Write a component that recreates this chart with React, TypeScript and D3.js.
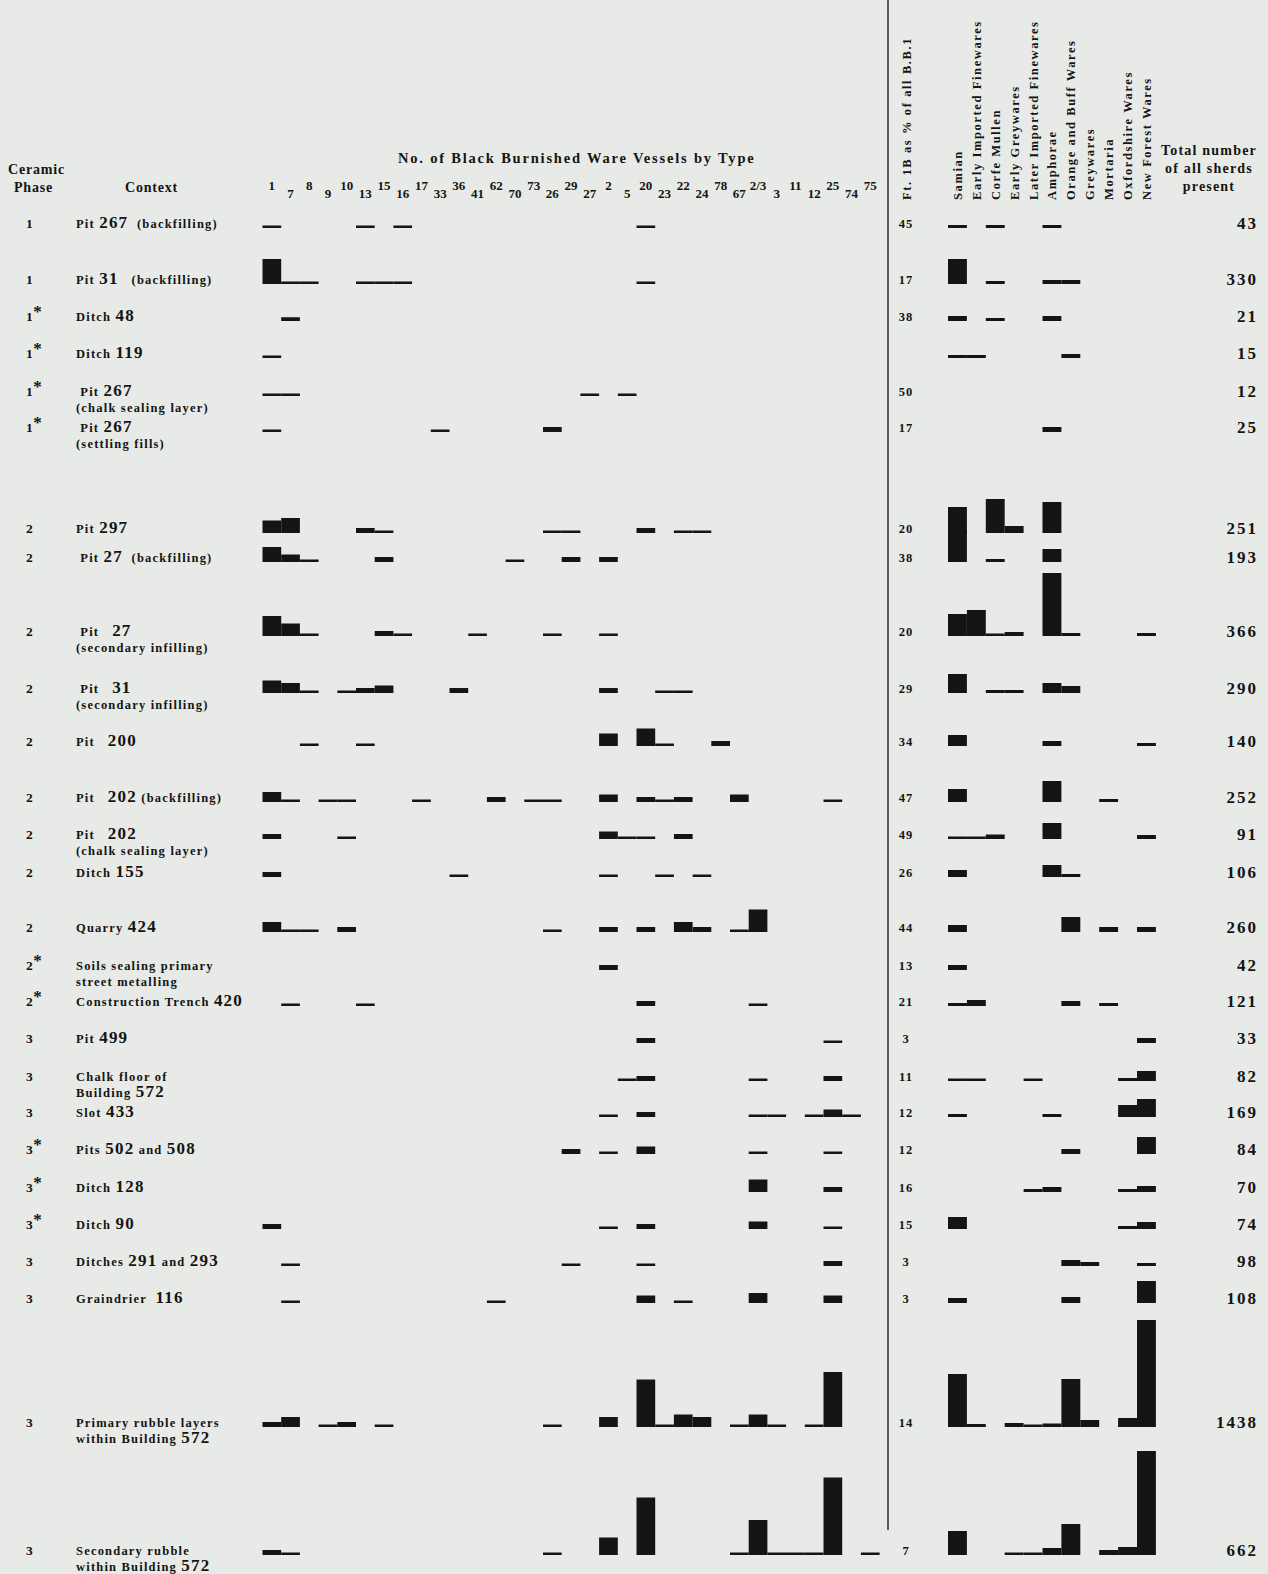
import React from "react";
import * as d3 from "d3";

const WIDTH = 1268;
const HEIGHT = 1574;

// Black Burnished ware vessel types, in column order
const bbTypes = [
  "1", "7", "8", "9", "10", "13", "15", "16", "17", "33", "36", "41", "62", "70", "73", "26", "29",
  "27", "2", "5", "20", "23", "22", "24", "78", "67", "2/3", "3", "11", "12", "25", "74", "75",
];

// Other fabric groups
const fabricGroups = [
  "Samian",
  "Early Imported Finewares",
  "Corfe Mullen",
  "Early Greywares",
  "Later Imported Finewares",
  "Amphorae",
  "Orange and Buff Wares",
  "Greywares",
  "Mortaria",
  "Oxfordshire Wares",
  "New Forest Wares",
];

const phases = [
  "1", "1", "1*", "1*", "1*", "1*",
  "2", "2", "2", "2", "2", "2", "2", "2", "2", "2*", "2*",
  "3", "3", "3", "3*", "3*", "3*", "3", "3", "3", "3",
];

const contextLines: string[][] = [
  ["Pit 267  (backfilling)"],
  ["Pit 31   (backfilling)"],
  ["Ditch 48"],
  ["Ditch 119"],
  [" Pit 267", "(chalk sealing layer)"],
  [" Pit 267", "(settling fills)"],
  ["Pit 297"],
  [" Pit 27  (backfilling)"],
  [" Pit   27", "(secondary infilling)"],
  [" Pit   31", "(secondary infilling)"],
  ["Pit   200"],
  ["Pit   202 (backfilling)"],
  ["Pit   202", "(chalk sealing layer)"],
  ["Ditch 155"],
  ["Quarry 424"],
  ["Soils sealing primary", "street metalling"],
  ["Construction Trench 420"],
  ["Pit 499"],
  ["Chalk floor of", "Building 572"],
  ["Slot 433"],
  ["Pits 502 and 508"],
  ["Ditch 128"],
  ["Ditch 90"],
  ["Ditches 291 and 293"],
  ["Graindrier  116"],
  ["Primary rubble layers", "within Building 572"],
  ["Secondary rubble", "within Building 572"],
];

// Ft. 1B as % of all B.B.1 (blank where not given)
const ft1bShare: (number | null)[] = [
  45, 17, 38, null, 50, 17, 20, 38, 20, 29, 34, 47, 49, 26, 44, 13, 21, 3, 11, 12, 12, 16, 15, 3, 3, 14, 7,
];

const totalSherds = [
  43, 330, 21, 15, 12, 25, 251, 193, 366, 290, 140, 252, 91, 106, 260, 42, 121, 33, 82, 169, 84, 70, 74,
  98, 108, 1438, 662,
];

// Black Burnished vessels per type, one record per context
const bbCounts: Record<string, number>[] = [
  { "1": 1, "13": 1, "16": 1, "20": 1 },
  { "1": 10, "7": 1, "8": 1, "13": 1, "15": 1, "16": 1, "20": 1 },
  { "7": 1.5 },
  { "1": 1 },
  { "1": 1, "7": 1, "27": 1, "5": 1 },
  { "1": 1, "33": 1, "26": 2 },
  { "1": 5, "7": 6, "13": 2, "15": 1, "26": 1, "29": 1, "20": 2, "22": 1, "24": 1 },
  { "1": 6, "7": 3, "8": 1, "15": 2, "70": 1, "29": 2, "2": 2 },
  { "1": 8, "7": 5, "8": 1, "15": 2, "16": 1, "41": 1, "26": 1, "2": 1 },
  { "1": 5, "7": 4, "8": 1, "10": 1, "13": 2, "15": 3, "36": 2, "2": 2, "23": 1, "22": 1 },
  { "8": 1, "13": 1, "2": 5, "20": 7, "23": 1, "78": 2 },
  { "1": 4, "7": 1, "9": 1, "10": 1, "17": 1, "62": 2, "73": 1, "26": 1, "2": 3, "20": 2, "23": 1, "22": 2, "67": 3, "25": 1 },
  { "1": 2, "10": 1, "2": 3, "5": 1, "20": 1, "22": 2 },
  { "1": 2, "36": 1, "2": 1, "23": 1, "24": 1 },
  { "1": 4, "7": 1, "8": 1, "10": 2, "26": 1, "2": 2, "20": 2, "22": 4, "24": 2, "67": 1, "2/3": 9 },
  { "2": 2 },
  { "7": 1, "13": 1, "20": 2, "2/3": 1 },
  { "20": 2, "25": 1 },
  { "5": 1, "20": 2, "2/3": 1, "25": 2 },
  { "2": 1, "20": 2, "2/3": 1, "3": 1, "12": 1, "25": 3, "74": 1 },
  { "29": 2, "2": 1, "20": 3, "2/3": 1, "25": 1 },
  { "2/3": 5, "25": 2 },
  { "1": 2, "2": 1, "20": 2, "2/3": 3, "25": 1 },
  { "7": 1, "29": 1, "20": 1, "25": 2 },
  { "7": 1, "62": 1, "20": 3, "22": 1, "2/3": 4, "25": 3 },
  { "1": 2, "7": 4, "9": 1, "10": 2, "15": 1, "26": 1, "2": 4, "20": 19, "23": 1, "22": 5, "24": 4, "67": 1, "2/3": 5, "3": 1, "12": 1, "25": 22 },
  { "1": 2, "7": 1, "26": 1, "2": 7, "20": 23, "67": 1, "2/3": 14, "3": 1, "11": 1, "12": 1, "25": 31, "75": 1 },
];

// Share of each fabric group per context, in fabricGroups order
const fabricShares: number[][] = [
  [1.2, 0, 1.2, 0, 0, 1.2, 0, 0, 0, 0, 0],
  [10, 0, 1.2, 0, 0, 1.6, 1.6, 0, 0, 0, 0],
  [2, 0, 1.2, 0, 0, 2, 0, 0, 0, 0, 0],
  [1.2, 1.2, 0, 0, 0, 0, 1.6, 0, 0, 0, 0],
  [0, 0, 0, 0, 0, 0, 0, 0, 0, 0, 0],
  [0, 0, 0, 0, 0, 2, 0, 0, 0, 0, 0],
  [10.4, 0, 13.6, 2.8, 0, 12.4, 0, 0, 0, 0, 0],
  [12.8, 0, 1.2, 0, 0, 5.2, 0, 0, 0, 0, 0],
  [8.8, 10.4, 1, 1.6, 0, 25.2, 1.2, 0, 0, 0, 1.2],
  [7.6, 0, 1.2, 1.2, 0, 4, 2.8, 0, 0, 0, 0],
  [4.4, 0, 0, 0, 0, 2, 0, 0, 0, 0, 1.2],
  [5.2, 0, 0, 0, 0, 8.4, 0, 0, 1.2, 0, 0],
  [1, 1, 1.8, 0, 0, 6.4, 0, 0, 0, 0, 1.6],
  [2.8, 0, 0, 0, 0, 4.8, 1.2, 0, 0, 0, 0],
  [2.8, 0, 0, 0, 0, 0, 6, 0, 2, 0, 2],
  [2, 0, 0, 0, 0, 0, 0, 0, 0, 0, 0],
  [1.2, 2.4, 0, 0, 0, 0, 2, 0, 1.2, 0, 0],
  [0, 0, 0, 0, 0, 0, 0, 0, 0, 0, 2],
  [1, 1, 0, 0, 1, 0, 0, 0, 0, 1.2, 4],
  [1.2, 0, 0, 0, 0, 1.2, 0, 0, 0, 4.8, 7.2],
  [0, 0, 0, 0, 0, 0, 2, 0, 0, 0, 6.8],
  [0, 0, 0, 0, 1.2, 2, 0, 0, 0, 1.2, 2.4],
  [4.8, 0, 0, 0, 0, 0, 0, 0, 0, 1.2, 2.8],
  [0, 0, 0, 0, 0, 0, 2.4, 1.6, 0, 0, 1.2],
  [2, 0, 0, 0, 0, 0, 2.4, 0, 0, 0, 8.8],
  [21.2, 1.2, 0, 1.6, 1, 1.4, 19.2, 2.8, 0, 3.6, 42.8],
  [9.6, 0, 0, 1, 1, 2.8, 12.4, 0, 2, 3.2, 41.6],
];

// ---- layout ----
const rowBase = [
  228, 284, 321, 358, 396, 432, 533, 562, 636, 693, 746, 802, 839, 877, 932, 970, 1006, 1043, 1081,
  1117, 1154, 1192, 1229, 1266, 1303, 1427, 1555,
];
const LINE_GAP = 15.5;
const INK = "#141414";
const PAPER = "#e7eae6";
const FONT = "'Liberation Serif', 'DejaVu Serif', serif";

function ContextText({ line, x, y }: { line: string; x: number; y: number }) {
  const parts = line.split(/(\d+)/).filter((p) => p.length > 0);
  return (
    <text x={x} y={y} fontFamily={FONT} fontWeight="bold" fill={INK} style={{ whiteSpace: "pre" }}>
      {parts.map((p, i) =>
        /^\d+$/.test(p) ? (
          <tspan key={i} fontSize={17} letterSpacing={1.2}>
            {p}
          </tspan>
        ) : (
          <tspan key={i} fontSize={12.5} letterSpacing={1.2}>
            {p}
          </tspan>
        )
      )}
    </text>
  );
}

export default function App() {
  const xLeft = d3
    .scaleBand<string>()
    .domain(bbTypes)
    .range([262.5, 262.5 + bbTypes.length * 18.7]);
  const xRight = d3
    .scaleBand<string>()
    .domain(fabricGroups)
    .range([948, 948 + fabricGroups.length * 18.9]);
  const hLeft = d3.scaleLinear().domain([0, 1]).range([0, 2.5]);
  const hRight = d3.scaleLinear().domain([0, 1]).range([0, 2.5]);

  return (
    <div style={{ position: "absolute", left: 0, top: 0 }}>
      <svg width={WIDTH} height={HEIGHT} viewBox={`0 0 ${WIDTH} ${HEIGHT}`} style={{ display: "block" }}>
        <rect x={0} y={0} width={WIDTH} height={HEIGHT} fill={PAPER} />

        {/* column headings */}
        <g fontFamily={FONT} fontWeight="bold" fill={INK} fontSize={14} letterSpacing={0.8}>
          <text x={8} y={174}>Ceramic</text>
          <text x={14} y={192}>Phase</text>
          <text x={125} y={192}>Context</text>
          <text x={398} y={163} fontSize={14.5} letterSpacing={1.8}>
            No. of Black Burnished Ware Vessels by Type
          </text>
          <g textAnchor="middle" letterSpacing={1.2}>
            <text x={1209} y={155}>Total number</text>
            <text x={1209} y={173}>of all sherds</text>
            <text x={1209} y={191}>present</text>
          </g>
        </g>

        {/* type numbers, staggered */}
        <g fontFamily={FONT} fontWeight="bold" fill={INK} fontSize={13} textAnchor="middle">
          {bbTypes.map((t, i) => (
            <text key={t} x={xLeft(t)! + xLeft.bandwidth() / 2} y={i % 2 === 0 ? 190 : 198}>
              {t}
            </text>
          ))}
        </g>

        {/* rotated headings on the right */}
        <g fontFamily={FONT} fontWeight="bold" fill={INK} fontSize={12.5} letterSpacing={1.6}>
          <text transform={`translate(911,200) rotate(-90)`}>Ft. 1B as % of all B.B.1</text>
          {fabricGroups.map((f) => (
            <text key={f} transform={`translate(${xRight(f)! + xRight.bandwidth() / 2 + 4.5},200) rotate(-90)`}>
              {f}
            </text>
          ))}
        </g>

        {/* divider */}
        <line x1={888} x2={888} y1={0} y2={1530} stroke="#3a3a3a" strokeWidth={1.6} />

        {/* rows */}
        {rowBase.map((base, r) => {
          const phase = phases[r];
          const star = phase.endsWith("*");
          const counts = bbCounts[r];
          const shares = fabricShares[r];
          return (
            <g key={r}>
              <text x={26} y={base} fontFamily={FONT} fontWeight="bold" fontSize={13.5} fill={INK}>
                {phase.replace("*", "")}
                {star && (
                  <tspan fontSize={17} dy={-4} dx={0.5}>
                    *
                  </tspan>
                )}
              </text>
              {contextLines[r].map((line, j) => (
                <ContextText key={j} line={line} x={76} y={base + j * LINE_GAP} />
              ))}

              {bbTypes
                .filter((t) => (counts[t] ?? 0) > 0)
                .map((t) => (
                  <rect
                    key={t}
                    x={xLeft(t)!}
                    y={base - hLeft(counts[t])}
                    width={xLeft.bandwidth()}
                    height={hLeft(counts[t])}
                    fill={INK}
                  />
                ))}

              {ft1bShare[r] !== null && (
                <text
                  x={906}
                  y={base}
                  textAnchor="middle"
                  fontFamily={FONT}
                  fontWeight="bold"
                  fontSize={12.5}
                  letterSpacing={1}
                  fill={INK}
                >
                  {ft1bShare[r]}
                </text>
              )}

              {fabricGroups.map((f, k) =>
                shares[k] > 0 ? (
                  <rect
                    key={f}
                    x={xRight(f)!}
                    y={base - hRight(shares[k])}
                    width={xRight.bandwidth()}
                    height={hRight(shares[k])}
                    fill={INK}
                  />
                ) : null
              )}

              <text
                x={1258}
                y={base + 1}
                textAnchor="end"
                fontFamily={FONT}
                fontWeight="bold"
                fontSize={17}
                letterSpacing={2}
                fill={INK}
              >
                {totalSherds[r]}
              </text>
            </g>
          );
        })}
      </svg>
    </div>
  );
}
